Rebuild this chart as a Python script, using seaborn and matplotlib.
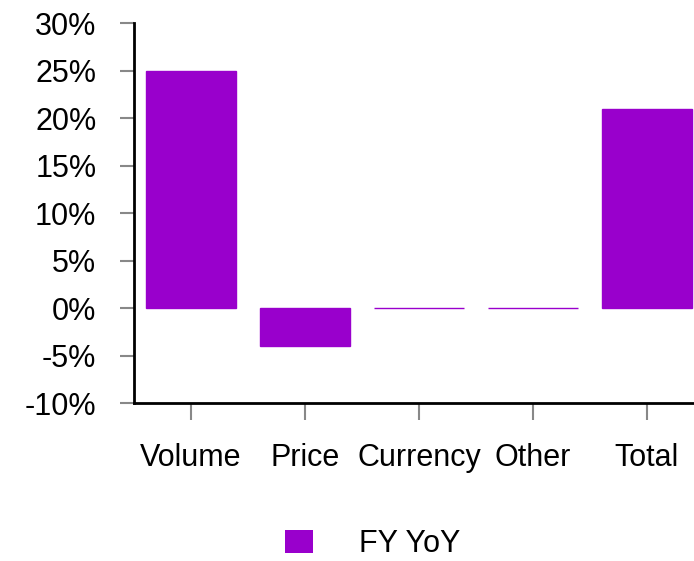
import pandas as pd
import matplotlib.pyplot as plt
import seaborn as sns
from matplotlib.patches import Patch
from matplotlib.ticker import FuncFormatter

categories = ['Volume', 'Price', 'Currency', 'Other', 'Total']
fy_yoy = [25.0, -4.0, 0.0, 0.0, 21.0]
series_name = 'FY YoY'

df = pd.DataFrame({'category': categories, 'value': fy_yoy})

sns.set_style('white')
plt.rcParams['font.family'] = ['Liberation Sans', 'DejaVu Sans']
plt.rcParams['text.color'] = 'black'

fig = plt.figure(figsize=(6.94, 5.61), dpi=100)
ax = fig.add_axes([0.193, 0.2816, 1.0144 - 0.193, 0.6774])

bar_color = '#9900CC'
sns.barplot(data=df, x='category', y='value', color=bar_color, width=0.79,
            saturation=1, edgecolor=bar_color, linewidth=1, ax=ax)

ax.set_ylim(-10, 30)
ax.set_yticks(range(-10, 31, 5))
ax.yaxis.set_major_formatter(FuncFormatter(lambda v, p: f'{v:.0f}%'))
ax.set_xlim(-0.5, len(categories) - 0.5)
ax.set_xlabel('')
ax.set_ylabel('')

for s in ['top', 'right']:
    ax.spines[s].set_visible(False)
for s in ['left', 'bottom']:
    ax.spines[s].set_color('black')
    ax.spines[s].set_linewidth(2)

ax.tick_params(axis='y', direction='out', length=10, width=1.5, color='#888888',
               labelsize=22, pad=17, left=True, labelcolor='black')
ax.tick_params(axis='x', direction='out', length=12, width=1.5, color='#888888',
               labelsize=22, pad=17, bottom=True, labelcolor='black')

handle = Patch(facecolor=bar_color, edgecolor='none')
fig.legend([handle], [series_name], loc='center', bbox_to_anchor=(0.537, 0.03),
           frameon=False, fontsize=22, handlelength=0.91, handleheight=0.79,
           handletextpad=1.5, borderpad=0, borderaxespad=0, labelcolor='black')

fig.savefig('out.png', dpi=100)
